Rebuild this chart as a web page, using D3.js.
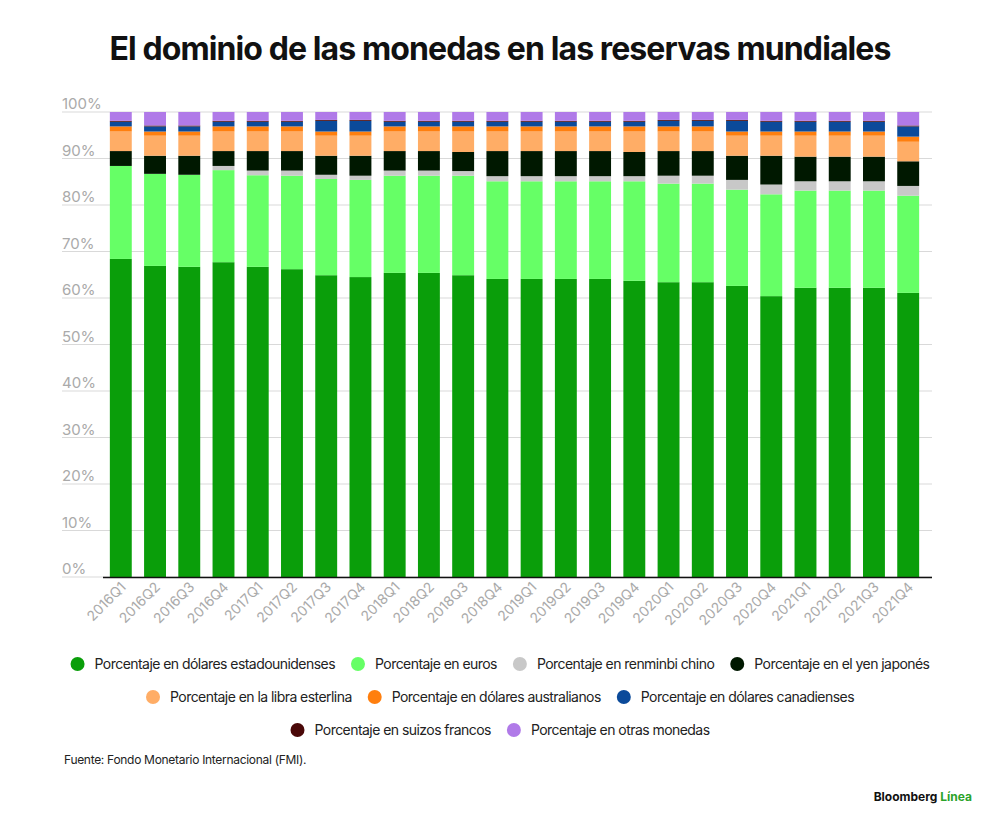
<!DOCTYPE html>
<html><head><meta charset="utf-8">
<script src="https://cdn.jsdelivr.net/npm/d3@7"></script>
<style>body{margin:0;background:#fff;font-family:Inter,"Noto Sans",sans-serif}</style>
</head><body><svg id="c" width="1000" height="824"></svg>
<script>
const quarters = ["2016Q1","2016Q2","2016Q3","2016Q4","2017Q1","2017Q2","2017Q3","2017Q4","2018Q1","2018Q2","2018Q3","2018Q4","2019Q1","2019Q2","2019Q3","2019Q4","2020Q1","2020Q2","2020Q3","2020Q4","2021Q1","2021Q2","2021Q3","2021Q4"];
const usd = [68.4,66.9,66.7,67.7,66.7,66.2,64.9,64.5,65.4,65.4,64.9,64.1,64.1,64.1,64.1,63.7,63.4,63.4,62.6,60.4,62.2,62.2,62.2,61.1];
const eur = [20.0,19.8,19.8,19.8,19.7,20.1,20.7,20.9,20.9,20.9,21.4,21.0,21.0,21.0,21.0,21.4,21.2,21.2,20.7,21.9,20.9,20.9,20.9,20.9];
const cny = [0,0,0,0.9,1.0,1.1,0.9,0.9,1.1,1.1,1.0,1.1,1.1,1.1,1.1,1.1,1.7,1.7,2.1,2.1,2.0,2.0,2.0,2.1];
const jpy = [3.2,3.9,4.1,3.2,4.2,4.2,4.1,4.3,4.2,4.2,4.1,5.4,5.4,5.4,5.4,5.2,5.3,5.3,5.2,6.2,5.3,5.3,5.3,5.3];
const gbp = [4.2,4.3,4.3,4.2,4.2,4.2,4.3,4.3,4.2,4.2,4.4,4.2,4.2,4.2,4.2,4.4,4.2,4.2,4.3,4.3,4.5,4.5,4.5,4.2];
const aud = [1.1,0.9,0.9,1.1,1.1,1.1,0.9,0.9,1.1,1.1,1.1,1.1,1.1,1.1,1.1,1.1,1.1,1.1,0.9,0.9,0.9,0.9,0.9,1.1];
const cad = [1.0,1.1,1.1,1.0,1.0,1.0,2.3,2.3,1.0,1.0,1.0,1.0,1.0,1.0,1.0,1.0,1.2,1.2,2.3,2.1,2.1,2.1,2.1,2.2];
const chf = [0.2,0.2,0.2,0.2,0.2,0.2,0.2,0.2,0.2,0.2,0.2,0.2,0.2,0.2,0.2,0.2,0.2,0.2,0.2,0.2,0.2,0.2,0.2,0.2];
const other = [1.9,2.9,2.9,1.9,1.9,1.9,1.7,1.7,1.9,1.9,1.9,1.9,1.9,1.9,1.9,1.9,1.7,1.7,1.7,1.9,1.9,1.9,1.9,2.9];
const seriesNames = ["Porcentaje en dólares estadounidenses","Porcentaje en euros","Porcentaje en renminbi chino","Porcentaje en el yen japonés","Porcentaje en la libra esterlina","Porcentaje en dólares australianos","Porcentaje en dólares canadienses","Porcentaje en suizos francos","Porcentaje en otras monedas"];
const colors = ["#0a9e0a","#66ff66","#c8c8c8","#001800","#ffad66","#ff7f0e","#0b4a9a","#4a0808","#b07ae8"];
const yTicks = [0,10,20,30,40,50,60,70,80,90,100];

const all = [usd,eur,cny,jpy,gbp,aud,cad,chf,other];
const keys = d3.range(all.length);
const rows = quarters.map((q,i)=>{const r={q}; keys.forEach(k=>r[k]=all[k][i]); return r;});
const stack = d3.stack().keys(keys)(rows);

const svg = d3.select("#c");
const x = d3.scaleBand().domain(quarters).range([103,926]).paddingInner(0.36).paddingOuter(0.2);
const y = d3.scaleLinear().domain([0,100]).range([577,112]);

svg.append("text").attr("x",500).attr("y",60).attr("text-anchor","middle")
  .attr("font-size",32).attr("font-weight",700).attr("letter-spacing",-0.9).attr("fill","#111")
  .text("El dominio de las monedas en las reservas mundiales");

svg.append("g").selectAll("line").data(yTicks).join("line")
  .attr("x1",62).attr("x2",932).attr("y1",d=>y(d)).attr("y2",d=>y(d))
  .attr("stroke","#d9d9d9");
svg.append("g").selectAll("text").data(yTicks).join("text")
  .attr("x",62).attr("y",d=>y(d)-3).attr("font-size",15).attr("fill","#aaa")
  .text(d=>d+"%");

svg.append("g").selectAll("g").data(stack).join("g").attr("fill",(d,i)=>colors[i])
  .selectAll("rect").data(d=>d).join("rect")
  .attr("x",d=>x(d.data.q)).attr("width",x.bandwidth())
  .attr("y",d=>y(d[1])).attr("height",d=>y(d[0])-y(d[1]));

svg.append("line").attr("x1",103).attr("x2",932).attr("y1",577.5).attr("y2",577.5).attr("stroke","#111").attr("stroke-width",1.5);

svg.append("g").selectAll("text").data(quarters).join("text")
  .attr("transform",d=>`translate(${x(d)+x.bandwidth()/2+6},${588}) rotate(-45)`)
  .attr("text-anchor","end").attr("font-size",14).attr("fill","#aaa").text(d=>d);

const legendRows = [[0,1,2,3],[4,5,6],[7,8]];
legendRows.forEach((r,ri)=>{
  const g = svg.append("g");
  let cx = 0;
  r.forEach(k=>{
    const it = g.append("g").attr("transform",`translate(${cx},0)`);
    it.append("circle").attr("cx",7).attr("cy",0).attr("r",7).attr("fill",colors[k]);
    const t = it.append("text").attr("x",24).attr("y",5).attr("font-size",14)
      .attr("letter-spacing",-0.55).attr("fill","#222").text(seriesNames[k]);
    cx += 24 + t.node().getComputedTextLength() + 16;
  });
  const w = cx - 16;
  g.attr("transform",`translate(${500-w/2},${664+ri*33})`);
});

svg.append("text").attr("x",64).attr("y",764).attr("font-size",12).attr("fill","#222")
  .attr("letter-spacing",-0.3).text("Fuente: Fondo Monetario Internacional (FMI).");
const b = svg.append("text").attr("x",972).attr("y",801).attr("text-anchor","end").attr("font-size",12).attr("font-weight",700);
b.append("tspan").attr("fill","#111").text("Bloomberg ");
b.append("tspan").attr("fill","#2aa32a").text("Línea");
</script></body></html>
